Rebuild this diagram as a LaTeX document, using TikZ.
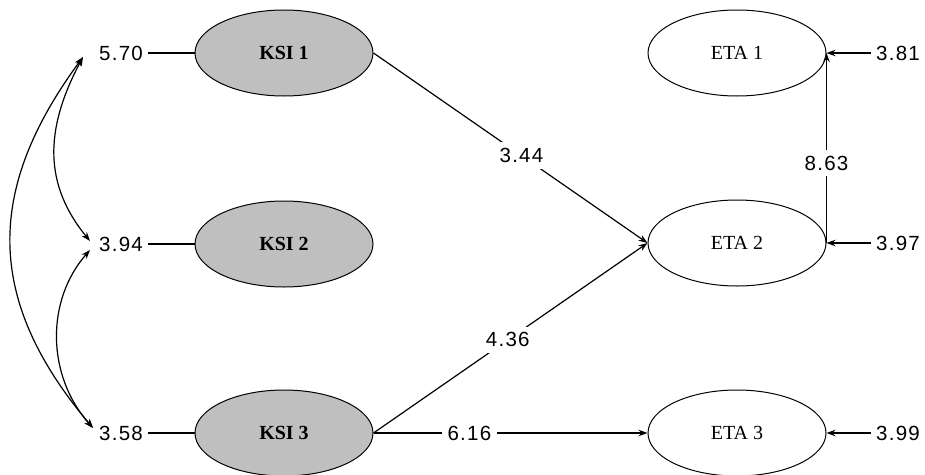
\documentclass[tikz,border=0pt]{standalone}
\usepackage{fontspec}
\setmainfont{Liberation Serif}
\newfontfamily\numfont[LetterSpace=6]{Liberation Sans}
\usetikzlibrary{shapes.geometric,arrows.meta}
\begin{document}
\begin{tikzpicture}[x=1pt,y=-1pt,
  lat/.style={ellipse,draw,line width=1pt,minimum width=178pt,minimum height=86pt,inner sep=0pt,font=\fontsize{20}{22}\selectfont},
  ksi/.style={lat,fill=black!25,font=\fontsize{20}{22}\selectfont\bfseries},
  num/.style={inner sep=5pt,font=\numfont\fontsize{20.5}{22}\selectfont},
  lab/.style={fill=white,inner sep=6pt,font=\numfont\fontsize{20.5}{22}\selectfont},
  tip/.style={-{Stealth[length=9pt,width=6.5pt]}},
  dtip/.style={{Stealth[length=9pt,width=6.5pt]}-{Stealth[length=9pt,width=6.5pt]}},
  conn/.style={line width=1.2pt}]
\useasboundingbox (0,0) rectangle (925,474);
% latent variables
\node[ksi] (k1) at (284,53) {KSI 1};
\node[ksi] (k2) at (284,244) {KSI 2};
\node[ksi] (k3) at (284,433) {KSI 3};
\node[lat] (n1) at (737,53) {ETA 1};
\node[lat] (n2) at (737,243) {ETA 2};
\node[lat] (n3) at (737,433) {ETA 3};
% error / variance labels
\node[num] (e1) at (121,53) {5.70};
\node[num] (e2) at (121,244) {3.94};
\node[num] (e3) at (121,433) {3.58};
\node[num] (f1) at (898,53) {3.81};
\node[num] (f2) at (898,243) {3.97};
\node[num] (f3) at (898,433) {3.99};
% left lines
\draw[conn] (e1.east) -- (k1.west);
\draw[conn] (e2.east) -- (k2.west);
\draw[conn] (e3.east) -- (k3.west);
% right error arrows
\draw[conn,tip] (f1.west) -- (n1.east);
\draw[conn,tip] (f2.west) -- (n2.east);
\draw[conn,tip] (f3.west) -- (n3.east);
% paths
\draw[conn,tip] (k1.east) -- node[lab,pos=0.54] {3.44} (n2.west);
\draw[conn,tip] (k3.east) -- node[lab,pos=0.49] {4.36} (n2.west);
\draw[conn,tip] (k3.east) -- node[lab,pos=0.35] {6.16} (n3.west);
\draw[conn,tip] (n2.east) -- node[lab,pos=0.42] {8.63} (n1.east);
% covariances
\coordinate (a1) at (83,57);
\coordinate (a2u) at (90,241);
\coordinate (a2d) at (90,250);
\coordinate (a3) at (93,428);
\draw[conn,dtip] (a1) .. controls (-15,190) and (-15,300) .. (a3);
\draw[conn,dtip] (a1) .. controls (44,130) and (44,185) .. (a2u);
\draw[conn,dtip] (a2d) .. controls (46,300) and (46,375) .. (a3);
\end{tikzpicture}
\end{document}
